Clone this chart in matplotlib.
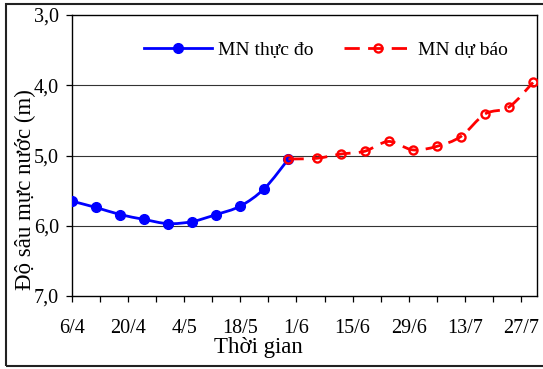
import matplotlib
matplotlib.use("Agg")
import matplotlib.pyplot as plt
import numpy as np
import pandas as pd
from matplotlib.path import Path
from matplotlib.patches import PathPatch, Rectangle
from matplotlib.lines import Line2D

plt.rcParams['font.family'] = ['Liberation Serif', 'DejaVu Serif']

# Observed groundwater depth (m)
observed_dates = ["6/4", "12/4", "18/4", "24/4", "30/4", "6/5", "12/5", "18/5", "24/5", "30/5"]
observed_depth = [5.65, 5.74, 5.84, 5.91, 5.97, 5.94, 5.84, 5.72, 5.47, 5.05]

# Forecast groundwater depth (m)
forecast_dates = ["30/5", "6/6", "12/6", "18/6", "24/6", "30/6", "6/7", "12/7", "18/7", "24/7", "30/7"]
forecast_depth = [5.05, 5.04, 4.98, 4.94, 4.80, 4.92, 4.87, 4.73, 4.41, 4.31, 3.96]

x_tick_labels = ["6/4", "", "20/4", "", "4/5", "", "18/5", "", "1/6", "",
                 "15/6", "", "29/6", "", "13/7", "", "27/7"]
y_ticks = [3.0, 4.0, 5.0, 6.0, 7.0]

YEAR = 2020
START = pd.Timestamp(f"{YEAR}-04-06")


def to_days(labels):
    out = []
    for s in labels:
        d, m = s.split("/")
        out.append((pd.Timestamp(year=YEAR, month=int(m), day=int(d)) - START).days)
    return np.array(out, dtype=float)


def smooth_path(x, y):
    """Cubic Bezier path through the points (Catmull-Rom style smoothing)."""
    x = np.asarray(x, float)
    y = np.asarray(y, float)
    pts = np.column_stack([x, y])
    n = len(pts)
    verts = [pts[0]]
    codes = [Path.MOVETO]
    for i in range(n - 1):
        p0 = pts[i - 1] if i > 0 else pts[i]
        p1 = pts[i]
        p2 = pts[i + 1]
        p3 = pts[i + 2] if i + 2 < n else pts[i + 1]
        c1 = p1 + (p2 - p0) / 6.0
        c2 = p2 - (p3 - p1) / 6.0
        verts += [c1, c2, p2]
        codes += [Path.CURVE4] * 3
    return Path(verts, codes)


fig = plt.figure(figsize=(5.43, 3.69), dpi=100)
ax = fig.add_axes([72 / 543, 73 / 369, 465 / 543, 281 / 369])

xo = to_days(observed_dates)
xf = to_days(forecast_dates)

blue = "#0000FF"
red = "#FF0000"

# observed: smoothed solid line with filled markers
ax.add_patch(PathPatch(smooth_path(xo, observed_depth), fill=False,
                       edgecolor=blue, lw=2.0, zorder=3, capstyle='round'))
ax.plot(xo, observed_depth, linestyle='none', marker='o', ms=7,
        color=blue, zorder=4)

# forecast: smoothed dashed line with open markers
ax.add_patch(PathPatch(smooth_path(xf, forecast_depth), fill=False,
                       edgecolor=red, lw=2.0, linestyle=(0, (5.5, 3)), zorder=5))
ax.plot(xf, forecast_depth, linestyle='none', marker='o', ms=5.8, mew=1.7,
        mfc='none', mec=red, zorder=6)

# axes
ax.set_xlim(0, 116)
ax.set_ylim(7.0, 3.0)
ax.set_yticks(y_ticks)
ax.set_yticklabels([f"{v:.1f}".replace(".", ",") for v in y_ticks])
ax.set_xticks(np.arange(len(x_tick_labels)) * 7)
ax.set_xticklabels(x_tick_labels)
ax.tick_params(axis='both', labelsize=14.5, direction='out', length=4.5,
               width=0.9, color='black')
ax.tick_params(axis='y', pad=5)
ax.tick_params(axis='x', pad=12)

for v in y_ticks[1:-1]:
    ax.axhline(v, color='#333333', lw=0.8, zorder=1)
for sp in ax.spines.values():
    sp.set_linewidth(1.0)
    sp.set_color('black')

ax.set_xlabel("Thời gian", fontsize=16.5)
ax.xaxis.set_label_coords(0.40, -0.183)
ax.xaxis.label.set_va('center')
ax.set_ylabel("Độ sâu mực nước (m)", fontsize=16.5)
ax.yaxis.set_label_coords(-0.100, 0.38)
ax.yaxis.label.set_va('center')

# legend
h_obs = Line2D([], [], color=blue, lw=2.0, marker='o', ms=7)
h_fc = Line2D([], [], color=red, lw=2.0, linestyle=(0, (5.5, 3)), marker='o',
              ms=5.8, mew=1.7, mfc='none', mec=red)
ax.legend([h_obs, h_fc], ["MN thực đo", "MN dự báo"], ncol=2, frameon=False,
          fontsize=14, handlelength=3.5, columnspacing=1.6, handletextpad=0.3,
          loc='center', bbox_to_anchor=(0.546, 0.875))

# outer chart border
fig.patches.append(Rectangle((6 / 543, 3 / 369), 1.0, 362 / 369,
                             transform=fig.transFigure, fill=False,
                             edgecolor='#222222', lw=1.5))

fig.savefig("out.png", dpi=100)
